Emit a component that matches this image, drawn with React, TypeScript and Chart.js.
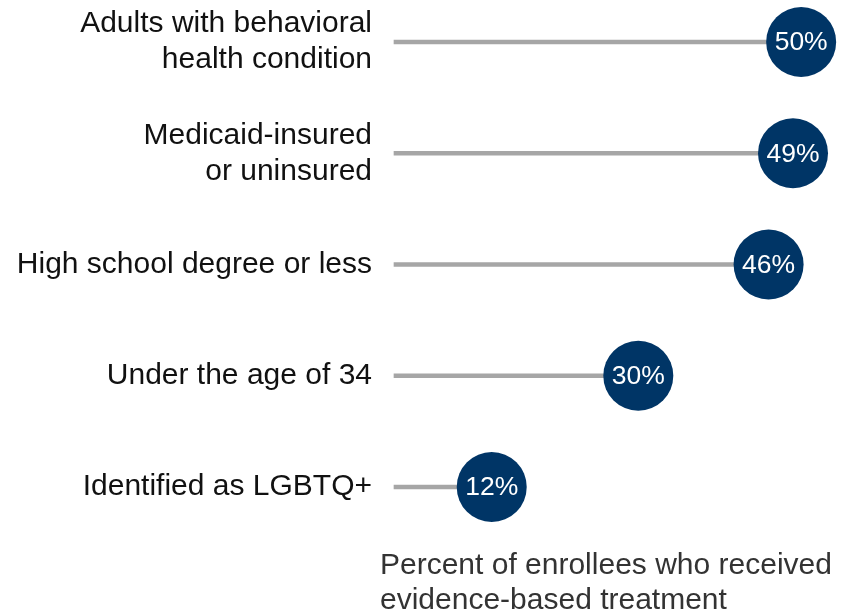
import React, { useEffect, useRef } from 'react';
import { Chart, registerables } from 'chart.js';

Chart.register(...registerables);

const categories: (string | string[])[] = [
  ['Adults with behavioral', 'health condition'],
  ['Medicaid-insured', 'or uninsured'],
  'High school degree or less',
  'Under the age of 34',
  'Identified as LGBTQ+',
];
const values = [50, 49, 46, 30, 12];
const valueLabels = ['50%', '49%', '46%', '30%', '12%'];
const axisTitle = ['Percent of enrollees who received', 'evidence-based treatment'];
const xMin = 0;
const xMax = 51.7;

const FONT = '"Liberation Sans", Arial, sans-serif';
const NAVY = '#003566';
const GRAY = '#a6a6a6';

const labelPlugin = {
  id: 'lollipopLabels',
  afterDatasetsDraw(chart: any) {
    const ctx = chart.ctx;
    const meta = chart.getDatasetMeta(1);
    ctx.save();
    ctx.fillStyle = '#ffffff';
    ctx.font = `26.5px ${FONT}`;
    ctx.textAlign = 'center';
    ctx.textBaseline = 'middle';
    meta.data.forEach((pt: any, i: number) => {
      ctx.fillText(valueLabels[i], pt.x, pt.y + 1);
    });
    ctx.restore();
  },
  afterDraw(chart: any) {
    const ctx = chart.ctx;
    ctx.save();
    ctx.fillStyle = '#333333';
    ctx.font = `30px ${FONT}`;
    ctx.textAlign = 'left';
    ctx.textBaseline = 'middle';
    axisTitle.forEach((line, i) => {
      ctx.fillText(line, 380, 566 + i * 35);
    });
    ctx.restore();
  },
};

export default function App() {
  const ref = useRef<HTMLCanvasElement>(null);
  useEffect(() => {
    if (!ref.current) return;
    const chart = new Chart(ref.current, {
      type: 'bar',
      data: {
        labels: categories as any,
        datasets: [
          {
            type: 'bar',
            data: values,
            backgroundColor: GRAY,
            barThickness: 4,
            clip: false,
            order: 1,
          } as any,
          {
            type: 'line',
            data: values,
            showLine: false,
            pointRadius: 35,
            pointHoverRadius: 35,
            pointBackgroundColor: NAVY,
            pointBorderColor: NAVY,
            pointBorderWidth: 0,
            clip: false,
            order: 0,
            indexAxis: 'y',
          } as any,
        ],
      },
      options: {
        indexAxis: 'y',
        responsive: false,
        animation: false,
        layout: { padding: { top: 42, bottom: 124, left: 0, right: 9 } },
        plugins: { legend: { display: false }, tooltip: { enabled: false } },
        scales: {
          x: { type: 'linear', min: xMin, max: xMax, display: false },
          y: {
            type: 'category',
            offset: false,
            grid: { display: false, drawTicks: false },
            border: { display: false },
            ticks: {
              color: '#111111',
              font: { family: FONT, size: 30, lineHeight: 1.2 },
              padding: 22,
            },
            afterFit: (s: any) => {
              s.width = 394;
            },
          },
        },
      },
      plugins: [labelPlugin],
    });
    return () => chart.destroy();
  }, []);
  return (
    <div style={{ position: 'absolute', left: 0, top: 0, width: 850, height: 611 }}>
      <canvas ref={ref} width={850} height={611} />
    </div>
  );
}
